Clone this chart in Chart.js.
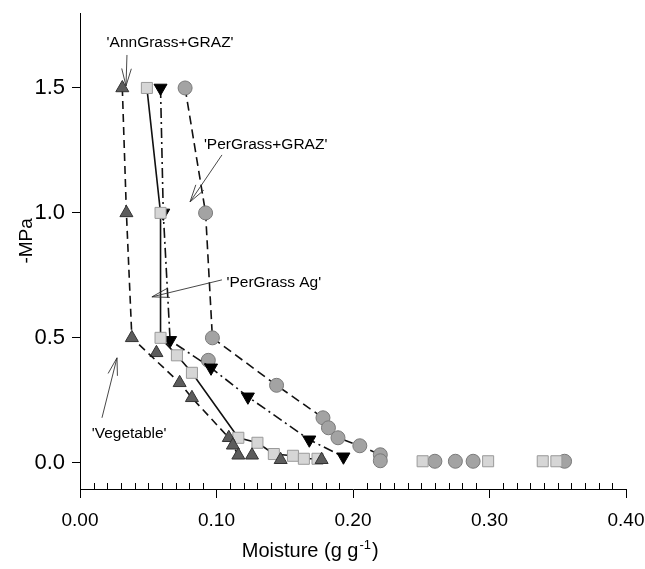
<!DOCTYPE html>
<html><head><meta charset="utf-8">
<script src="https://cdn.jsdelivr.net/npm/chart.js@4/dist/chart.umd.min.js"></script>
<style>html,body{margin:0;padding:0;background:#fff}#wrap{width:645px;height:569px}</style>
</head><body><div id="wrap"><canvas id="c"></canvas></div>
<script>
// ---- data (moisture g/g, -MPa) ----
const annGrassLine   = [[0.031,1.5],[0.034,1.0],[0.038,0.5],[0.073,0.32],[0.082,0.26],[0.109,0.10],[0.112,0.07],[0.116,0.03]];
const annGrassLoose  = [[0.056,0.44],[0.126,0.03],[0.147,0.012],[0.177,0.012]];
const perGrassAgLine = [[0.049,1.5],[0.059,1.0],[0.059,0.5],[0.071,0.43],[0.082,0.36],[0.116,0.10],[0.130,0.08],[0.142,0.035],[0.156,0.028],[0.164,0.016],[0.174,0.016]];
const perGrassAgLoose= [[0.251,0.006],[0.299,0.006],[0.339,0.006],[0.349,0.006]];
const vegetableLine  = [[0.059,1.5],[0.061,1.0],[0.066,0.49],[0.096,0.38],[0.123,0.264],[0.168,0.092],[0.193,0.024]];
const perGrazLine    = [[0.077,1.5],[0.092,1.0],[0.097,0.5],[0.144,0.31],[0.178,0.18],[0.182,0.14],[0.189,0.10],[0.205,0.068],[0.220,0.032],[0.220,0.008]];
const perGrazLoose   = [[0.094,0.41],[0.260,0.006],[0.275,0.006],[0.288,0.006],[0.355,0.006]];
const xTicks = [0.00,0.10,0.20,0.30,0.40];
const yTicks = [0.0,0.5,1.0,1.5];
const noteLabels = ["'AnnGrass+GRAZ'","'PerGrass+GRAZ'","'PerGrass Ag'","'Vegetable'"];

const toXY = a => a.map(p => ({x:p[0], y:p[1]}));

// annotation layout (data units)
const notes = [
  {tx:0.066, ty:1.68,  fx:0.0344, fy:1.632, ax:0.0337, ay:1.508},
  {tx:0.136, ty:1.272, fx:0.104,  fy:1.232, ax:0.0806, ay:1.044},
  {tx:0.142, ty:0.72,  fx:0.104,  fy:0.732, ax:0.0527, ay:0.664},
  {tx:0.036, ty:0.116, fx:0.0161, fy:0.18,  ax:0.0271, ay:0.42}
];

const FONT = "'Liberation Sans', Arial, Helvetica, sans-serif";
Chart.defaults.font.family = FONT;
Chart.defaults.color = '#000';

const extras = {
  id:'extras',
  afterDraw(chart){
    const ctx = chart.ctx, xs = chart.scales.x, ys = chart.scales.y;
    ctx.save();
    // minor ticks on x axis (inside)
    ctx.strokeStyle = '#000'; ctx.lineWidth = 1;
    const b = chart.chartArea.bottom;
    for (let i = 1; i < 40; i++) {
      if (i % 10 === 0) continue;
      const px = Math.round(xs.getPixelForValue(i/100)) + 0.5;
      ctx.beginPath(); ctx.moveTo(px, b); ctx.lineTo(px, b - 6); ctx.stroke();
    }
    // annotations
    ctx.font = '15.5px ' + FONT; ctx.fillStyle = '#000';
    ctx.textAlign = 'center'; ctx.textBaseline = 'middle';
    ctx.strokeStyle = '#333'; ctx.lineWidth = 0.9;
    notes.forEach((n, i) => {
      ctx.fillText(noteLabels[i], xs.getPixelForValue(n.tx), ys.getPixelForValue(n.ty));
      const fx = xs.getPixelForValue(n.fx), fy = ys.getPixelForValue(n.fy);
      const ax = xs.getPixelForValue(n.ax), ay = ys.getPixelForValue(n.ay);
      ctx.beginPath(); ctx.moveTo(fx, fy); ctx.lineTo(ax, ay); ctx.stroke();
      const ang = Math.atan2(fy - ay, fx - ax), L = 18, h = 0.27;
      ctx.beginPath();
      ctx.moveTo(ax + L*Math.cos(ang+h), ay + L*Math.sin(ang+h));
      ctx.lineTo(ax, ay);
      ctx.lineTo(ax + L*Math.cos(ang-h), ay + L*Math.sin(ang-h));
      ctx.stroke();
    });
    // axis titles
    ctx.fillStyle = '#000';
    ctx.textBaseline = 'alphabetic';
    const main = 'Moisture (g g', sup = '-1', end = ')';
    ctx.font = '20px ' + FONT; const w1 = ctx.measureText(main).width;
    ctx.font = '13px ' + FONT; const w2 = ctx.measureText(sup).width;
    ctx.font = '20px ' + FONT; const w3 = ctx.measureText(end).width;
    const cx = xs.getPixelForValue(0.169), by = b + 68;
    let sx = cx - (w1 + w2 + w3 + 3)/2;
    ctx.textAlign = 'left';
    ctx.fillText(main, sx, by);
    ctx.font = '13px ' + FONT; ctx.fillText(sup, sx + w1 + 1, by - 8);
    ctx.font = '20px ' + FONT; ctx.fillText(end, sx + w1 + w2 + 2, by);
    // y title
    ctx.font = '19px ' + FONT;
    ctx.translate(27, ys.getPixelForValue(0.888));
    ctx.rotate(-Math.PI/2);
    ctx.textAlign = 'center'; ctx.textBaseline = 'middle';
    ctx.fillText('-MPa', 0, 0);
    ctx.restore();
  }
};

const common = {showLine:true, borderColor:'#111', borderWidth:1.6, pointBorderWidth:1};

new Chart(document.getElementById('c'), {
  type:'scatter',
  data:{datasets:[
    {...common, data:toXY(annGrassLine), borderDash:[8,5], pointStyle:'triangle', pointRadius:7.5,
      pointBackgroundColor:'#5c5c5c', pointBorderColor:'#333'},
    {...common, showLine:false, data:toXY(annGrassLoose), pointStyle:'triangle', pointRadius:7.5,
      pointBackgroundColor:'#5c5c5c', pointBorderColor:'#333'},
    {...common, data:toXY(perGrassAgLine), pointStyle:'rect', pointRadius:7.8,
      pointBackgroundColor:'#d6d6d6', pointBorderColor:'#9a9a9a'},
    {...common, showLine:false, data:toXY(perGrassAgLoose), pointStyle:'rect', pointRadius:7.8,
      pointBackgroundColor:'#d6d6d6', pointBorderColor:'#9a9a9a'},
    {...common, data:toXY(vegetableLine), borderDash:[10,4,2,4], pointStyle:'triangle', pointRotation:180, pointRadius:7.5,
      pointBackgroundColor:'#000', pointBorderColor:'#000'},
    {...common, data:toXY(perGrazLine), borderDash:[9,5], pointStyle:'circle', pointRadius:7,
      pointBackgroundColor:'#a3a3a3', pointBorderColor:'#7a7a7a'},
    {...common, showLine:false, data:toXY(perGrazLoose), pointStyle:'circle', pointRadius:7,
      pointBackgroundColor:'#a3a3a3', pointBorderColor:'#7a7a7a'}
  ]},
  options:{
    responsive:true, maintainAspectRatio:false, animation:false,
    layout:{padding:{top:13, right:19, left:0, bottom:0}},
    plugins:{legend:{display:false}, tooltip:{enabled:false}},
    scales:{
      x:{type:'linear', min:0, max:0.4,
        afterBuildTicks:s => { s.ticks = xTicks.map(v => ({value:v})); },
        afterFit:s => { s.height = 80; s.paddingRight = 0; s.paddingLeft = 0; },
        grid:{display:true, drawOnChartArea:false, drawTicks:true, tickLength:9, color:'#000'},
        border:{display:true, color:'#000', width:1},
        ticks:{font:{size:19}, padding:11, maxRotation:0, callback:v => Number(v).toFixed(2)}},
      y:{type:'linear', min:-0.105, max:1.8,
        afterBuildTicks:s => { s.ticks = yTicks.map(v => ({value:v})); },
        afterFit:s => { s.width = 80; s.paddingTop = 0; s.paddingBottom = 0; },
        grid:{display:true, drawOnChartArea:false, drawTicks:true, tickLength:8, color:'#000'},
        border:{display:true, color:'#000', width:1},
        ticks:{font:{size:22}, padding:7, callback:v => Number(v).toFixed(1)}}
    }
  },
  plugins:[extras]
});
</script></body></html>
